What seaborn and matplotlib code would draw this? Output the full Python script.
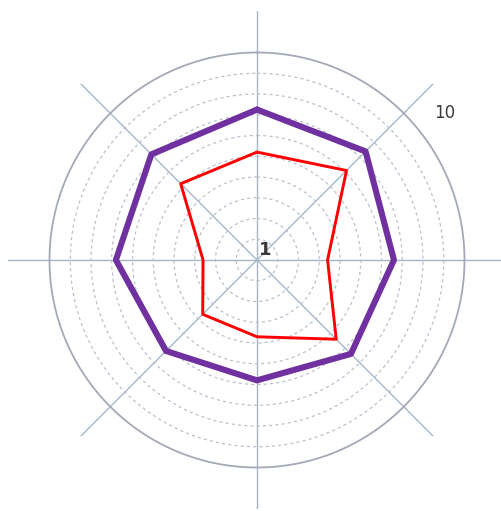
import numpy as np
import pandas as pd
import matplotlib
matplotlib.use("Agg")
import matplotlib.pyplot as plt
import seaborn as sns

# Data
categories = ["A", "B", "C", "D", "E", "F", "G", "H"]  # clockwise from top
purple_values = [7.25, 7.4, 6.6, 6.4, 5.8, 6.2, 6.8, 7.2]
red_values = [5.2, 6.1, 3.4, 5.4, 3.7, 3.7, 2.6, 5.2]
ring_values = [1, 2, 3, 4, 5, 6, 7, 8, 9]
outer_value = 10
label_center = "1"
label_outer = "10"

sns.set_theme(style="white")
plt.rcParams['font.family'] = ['DejaVu Sans']

W, H = 502, 511
fig = plt.figure(figsize=(W / 100, H / 100), dpi=100)
fig.patch.set_facecolor("white")

cx, cy, R = 257, 251, 249
ax = fig.add_axes([(cx - R) / W, (cy - R) / H, 2 * R / W, 2 * R / H], projection="polar")
ax.set_facecolor("none")
ax.set_theta_zero_location("N")
ax.set_theta_direction(-1)
ax.set_ylim(0, 12)

n = len(categories)
angles = np.arange(n) * 2 * np.pi / n

# spokes (theta gridlines)
ax.set_xticks(angles)
ax.set_xticklabels([])
ax.xaxis.grid(True, color="#a7b6c6", linewidth=1.0, linestyle="-")
# dotted rings
ax.set_yticks(ring_values)
ax.set_yticklabels([])
ax.yaxis.grid(True, color="#bcc0cf", linewidth=0.9, linestyle=(0, (2.5, 2.5)))
ax.spines["polar"].set_visible(False)

# outer solid ring
t = np.linspace(0, 2 * np.pi, 400)
ax.plot(t, np.full_like(t, outer_value), color="#a3a9b6", linewidth=1.3, zorder=2)

def closed(vals):
    th = np.append(angles, angles[0])
    r = np.append(vals, vals[0])
    return pd.DataFrame({"theta": th, "r": r, "order": np.arange(len(th))})

df_p = closed(purple_values)
df_r = closed(red_values)
sns.lineplot(data=df_p, x="theta", y="r", sort=False, estimator=None, ax=ax,
             color="#7030A0", linewidth=4.4, zorder=4)
sns.lineplot(data=df_r, x="theta", y="r", sort=False, estimator=None, ax=ax,
             color="#FF0000", linewidth=2.1, zorder=5)
ax.set_xlabel("")
ax.set_ylabel("")
ax.set_ylim(0, 12)

fig.text(445 / W, 1 - 113 / H, label_outer, ha="center", va="center",
         fontsize=12, color="#3a3a3a")
fig.text(265 / W, 1 - 250 / H, label_center, ha="center", va="center",
         fontsize=13, fontweight="semibold", color="#3a3a3a")

fig.savefig("out.png", dpi=100, facecolor="white")
